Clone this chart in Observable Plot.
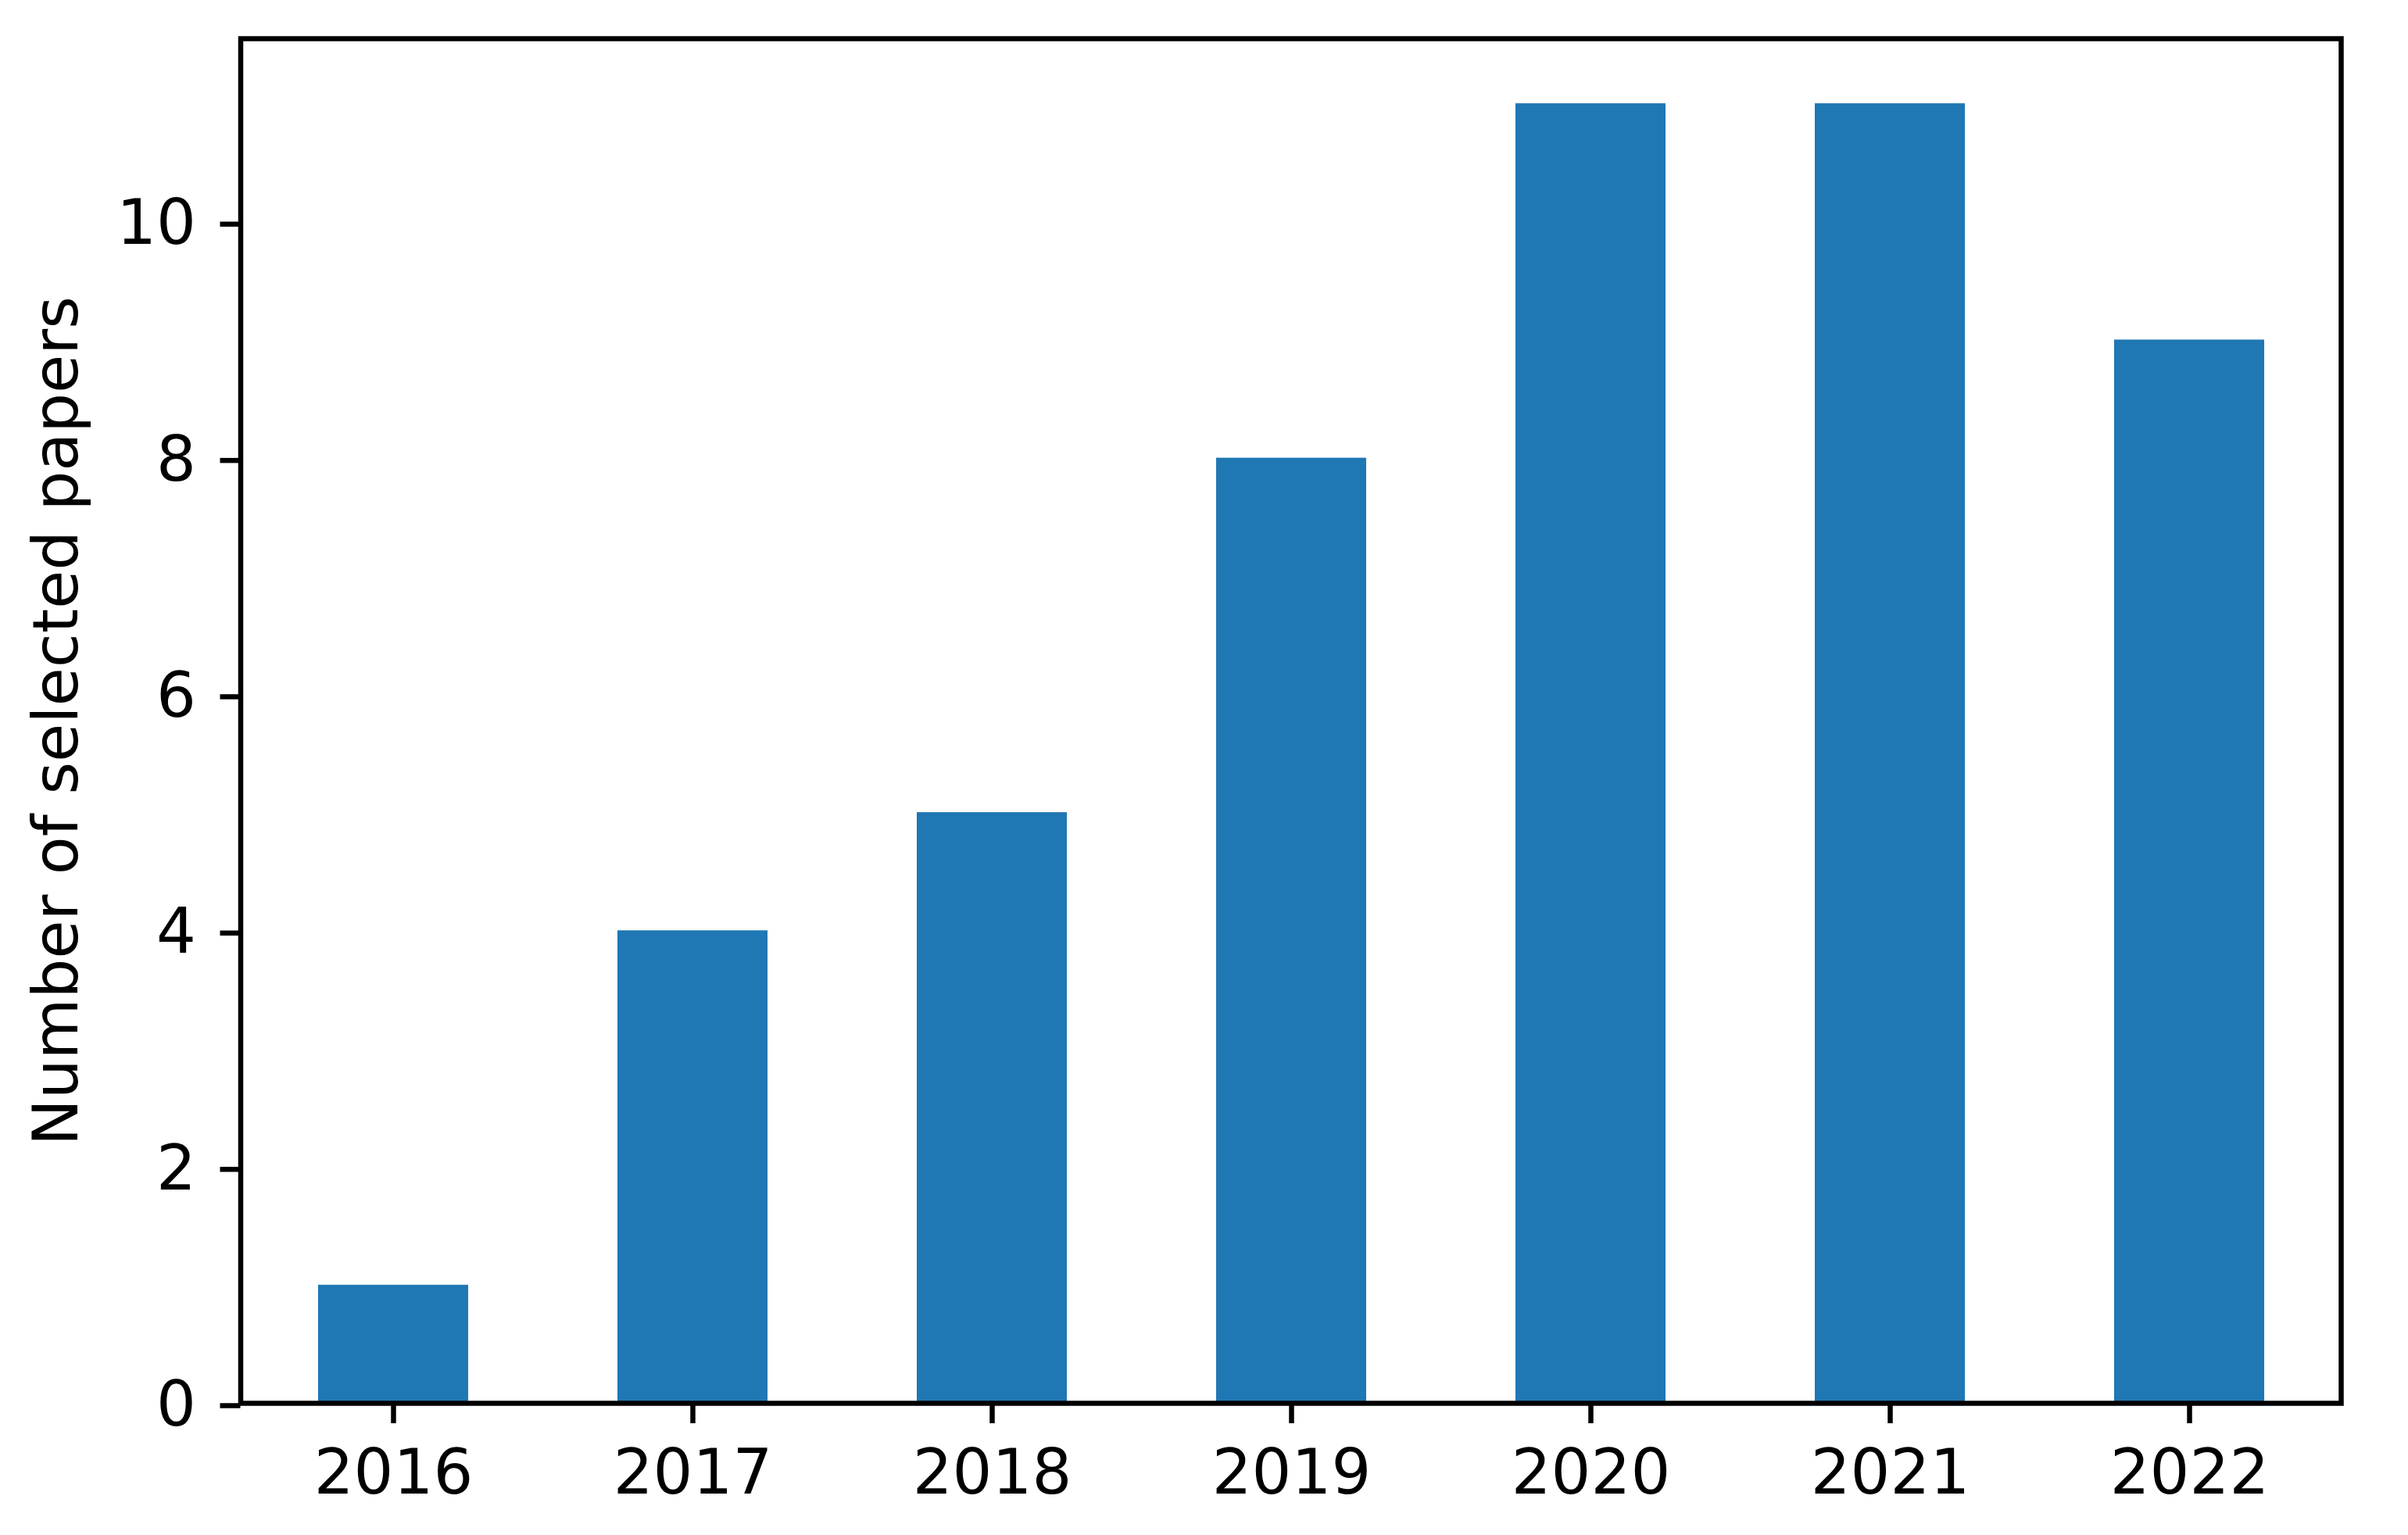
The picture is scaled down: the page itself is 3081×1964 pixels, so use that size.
<!DOCTYPE html>
<html>
<head>
<meta charset="utf-8">
<script src="https://cdn.jsdelivr.net/npm/d3@7"></script>
<script src="https://cdn.jsdelivr.net/npm/@observablehq/plot@0.6"></script>
<style>
  html, body { margin: 0; padding: 0; background: white; }
</style>
</head>
<body>
<div id="chart"></div>
<script>
const years = ["2016", "2017", "2018", "2019", "2020", "2021", "2022"];
const counts = [1, 4, 5, 8, 11, 11, 9];
const yTicks = [0, 2, 4, 6, 8, 10];
const yLabel = "Number of selected papers";

const data = years.map((y, i) => ({year: y, count: counts[i]}));

const chart = Plot.plot({
  width: 3081,
  height: 1964,
  marginLeft: 307.5,
  marginRight: 86,
  marginTop: 49,
  marginBottom: 169,
  style: {fontFamily: "DejaVu Sans", fontSize: "80px", background: "white", color: "black"},
  x: {domain: years, paddingInner: 0.5, paddingOuter: 0.25, align: 0.5},
  y: {domain: [0, 11.55]},
  marks: [
    Plot.barY(data, {x: "year", y: "count", fill: "#1f77b4"}),
    Plot.axisX({tickSize: 26, tickPadding: 33, strokeWidth: 6.5, fontSize: 80, label: null}),
    Plot.axisY({ticks: yTicks, tickSize: 26, tickPadding: 31, strokeWidth: 6.5, fontSize: 80, label: null, dy: 3}),
    Plot.frame({stroke: "black", strokeWidth: 6.5}),
    Plot.text([yLabel], {frameAnchor: "left", rotate: -90, dx: -235, fontSize: 80, textAnchor: "middle", lineAnchor: "middle", fill: "black"})
  ]
});
document.getElementById("chart").appendChild(chart);
</script>
</body>
</html>
